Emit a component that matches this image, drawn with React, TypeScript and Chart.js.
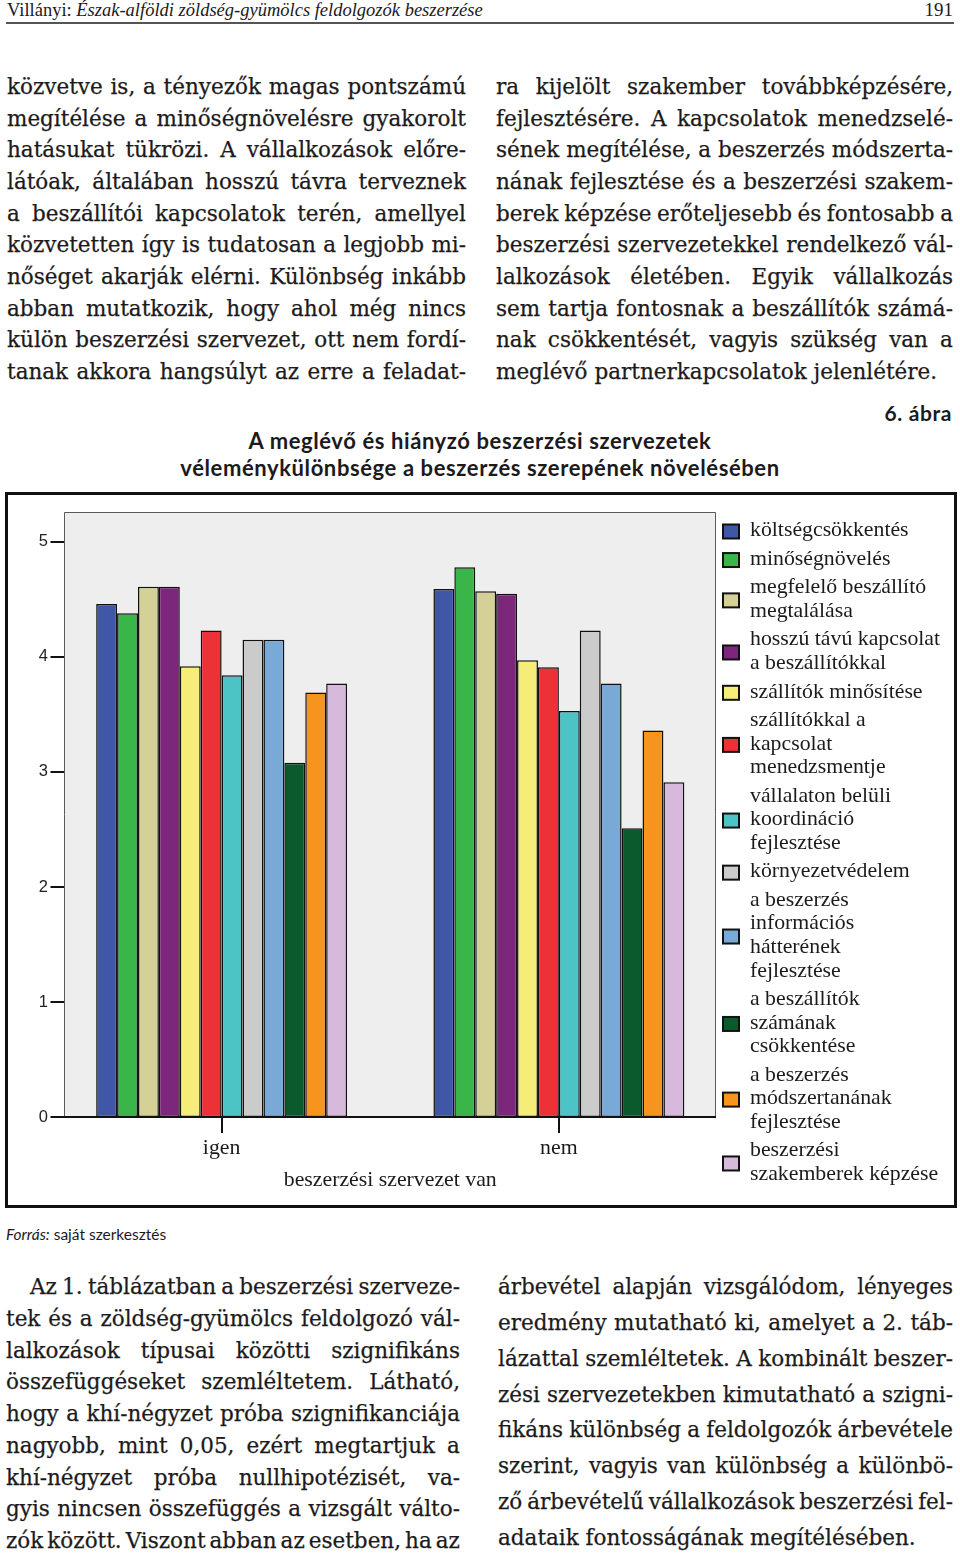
import React, { useEffect, useRef } from 'react';
import { Chart, registerables } from 'chart.js';

Chart.register(...registerables);

// ---------- chart data ----------
const categories = ['igen', 'nem'];
const seriesNames: string[][] = [
  ['költségcsökkentés'],
  ['minőségnövelés'],
  ['megfelelő beszállító', 'megtalálása'],
  ['hosszú távú kapcsolat', 'a beszállítókkal'],
  ['szállítók minősítése'],
  ['szállítókkal a', 'kapcsolat', 'menedzsmentje'],
  ['vállalaton belüli', 'koordináció', 'fejlesztése'],
  ['környezetvédelem'],
  ['a beszerzés', 'információs', 'hátterének', 'fejlesztése'],
  ['a beszállítók', 'számának', 'csökkentése'],
  ['a beszerzés', 'módszertanának', 'fejlesztése'],
  ['beszerzési', 'szakemberek képzése'],
];
const igenValues = [4.46, 4.38, 4.61, 4.61, 3.92, 4.23, 3.84, 4.15, 4.15, 3.08, 3.69, 3.77];
const nemValues = [4.59, 4.78, 4.57, 4.55, 3.97, 3.91, 3.53, 4.23, 3.77, 2.51, 3.36, 2.91];
const seriesColors = [
  '#3F57A6', '#39B54A', '#D5D096', '#7C267C', '#F6EC78', '#EC3237',
  '#4CC3C5', '#CBCBCB', '#79A9D7', '#0B5A2D', '#F7941E', '#D7BADB',
];
const yTickValues = [0, 1, 2, 3, 4, 5];
const yMax = 5.26;
const xTitle = 'beszerzési szervezet van';

// ---------- page text ----------
const topLeft = [
  'közvetve is, a tényezők magas pontszámú',
  'megítélése a minőségnövelésre gyakorolt',
  'hatásukat tükrözi. A vállalkozások előre-',
  'látóak, általában hosszú távra terveznek',
  'a beszállítói kapcsolatok terén, amellyel',
  'közvetetten így is tudatosan a legjobb mi-',
  'nőséget akarják elérni. Különbség inkább',
  'abban mutatkozik, hogy ahol még nincs',
  'külön beszerzési szervezet, ott nem fordí-',
  'tanak akkora hangsúlyt az erre a feladat-',
];
const topRight = [
  'ra kijelölt szakember továbbképzésére,',
  'fejlesztésére. A kapcsolatok menedzselé-',
  'sének megítélése, a beszerzés módszerta-',
  'nának fejlesztése és a beszerzési szakem-',
  'berek képzése erőteljesebb és fontosabb a',
  'beszerzési szervezetekkel rendelkező vál-',
  'lalkozások életében. Egyik vállalkozás',
  'sem tartja fontosnak a beszállítók számá-',
  'nak csökkentését, vagyis szükség van a',
  'meglévő partnerkapcsolatok jelenlétére.',
];
const bottomLeft = [
  'Az 1. táblázatban a beszerzési szerveze-',
  'tek és a zöldség-gyümölcs feldolgozó vál-',
  'lalkozások típusai közötti szignifikáns',
  'összefüggéseket szemléltetem. Látható,',
  'hogy a khí-négyzet próba szignifikanciája',
  'nagyobb, mint 0,05, ezért megtartjuk a',
  'khí-négyzet próba nullhipotézisét, va-',
  'gyis nincsen összefüggés a vizsgált válto-',
  'zók között. Viszont abban az esetben, ha az',
];
const bottomRight = [
  'árbevétel alapján vizsgálódom, lényeges',
  'eredmény mutatható ki, amelyet a 2. táb-',
  'lázattal szemléltetek. A kombinált beszer-',
  'zési szervezetekben kimutatható a szigni-',
  'fikáns különbség a feldolgozók árbevétele',
  'szerint, vagyis van különbség a különbö-',
  'ző árbevételű vállalkozások beszerzési fel-',
  'adataik fontosságának megítélésében.',
];

const BODY_FONT = '"DejaVu Serif", serif';
const BODY_SIZE = 21.5;
const TEXT_COLOR = '#1c1a1b';

function TextLine(props: { text: string; left: number; width: number; cy: number; justify: boolean; indent?: number }) {
  const { text, left, width, cy, justify, indent = 0 } = props;
  const lh = 30;
  const style: React.CSSProperties = {
    position: 'absolute',
    left: left + indent,
    width: width - indent,
    top: cy - lh / 2,
    height: lh,
    lineHeight: lh + 'px',
    fontFamily: BODY_FONT,
    fontSize: BODY_SIZE,
    color: TEXT_COLOR,
    whiteSpace: 'nowrap',
    WebkitTextStroke: '0.25px #1c1a1b',
  };
  if (justify) {
    return (
      <div style={{ ...style, display: 'flex', justifyContent: 'space-between' }}>
        {text.split(' ').map((w, i) => (
          <span key={i}>{w}</span>
        ))}
      </div>
    );
  }
  return <div style={style}>{text}</div>;
}

function Column(props: { lines: string[]; left: number; width: number; y0: number; step: number; lastJustified: boolean; firstIndent?: number }) {
  const { lines, left, width, y0, step, lastJustified, firstIndent = 0 } = props;
  return (
    <>
      {lines.map((t, i) => (
        <TextLine
          key={i}
          text={t}
          left={left}
          width={width}
          cy={y0 + i * step}
          justify={i < lines.length - 1 || lastJustified}
          indent={i === 0 ? firstIndent : 0}
        />
      ))}
    </>
  );
}

const framePlugin = {
  id: 'frame',
  beforeDatasetsDraw(chart: any) {
    const { ctx, chartArea: a } = chart;
    const L = a.left + 11;
    const R = a.right - 11.5;
    ctx.save();
    ctx.fillStyle = '#EEEEEE';
    ctx.fillRect(L, a.top, R - L, a.bottom - a.top);
    ctx.strokeStyle = '#5a5a5a';
    ctx.lineWidth = 1;
    ctx.beginPath();
    ctx.moveTo(L + 0.5, a.bottom);
    ctx.lineTo(L + 0.5, a.top + 0.5);
    ctx.lineTo(R - 0.5, a.top + 0.5);
    ctx.lineTo(R - 0.5, a.bottom);
    ctx.stroke();
    ctx.restore();
  },
  afterDatasetsDraw(chart: any) {
    const { ctx, chartArea: a, scales } = chart;
    const x = scales.x;
    const y = scales.y;
    const L = a.left + 11;
    const R = a.right - 11.5;
    const y0 = y.getPixelForValue(0);
    ctx.save();
    ctx.strokeStyle = '#111';
    ctx.lineWidth = 2;
    ctx.beginPath();
    ctx.moveTo(L - 13.5, y0);
    ctx.lineTo(R, y0);
    yTickValues.forEach((v) => {
      const py = Math.round(y.getPixelForValue(v));
      ctx.moveTo(L - 13.5, py);
      ctx.lineTo(L, py);
    });
    categories.forEach((_, i) => {
      const px = Math.round(x.getPixelForValue(i));
      ctx.moveTo(px, y0);
      ctx.lineTo(px, y0 + 16);
    });
    ctx.stroke();
    ctx.restore();
  },
};

const sideLegendPlugin = {
  id: 'sideLegend',
  afterDraw(chart: any) {
    const ctx = chart.ctx;
    const lh = 23.55;
    const gap = 5;
    let yy = 40.5;
    ctx.save();
    ctx.font = '21.8px "Liberation Serif"';
    ctx.textBaseline = 'middle';
    ctx.textAlign = 'left';
    chart.data.datasets.forEach((ds: any, i: number) => {
      const lines = seriesNames[i];
      const mid = yy + ((lines.length - 1) * lh) / 2 + 1;
      ctx.fillStyle = '#111';
      ctx.fillRect(722, mid - 8, 18, 16);
      ctx.fillStyle = ds.backgroundColor;
      ctx.fillRect(724, mid - 6, 14, 12);
      ctx.fillStyle = TEXT_COLOR;
      lines.forEach((t, j) => ctx.fillText(t, 750, yy + j * lh));
      yy += lines.length * lh + gap;
    });
    ctx.restore();
  },
};

function BarChart() {
  const ref = useRef<HTMLCanvasElement | null>(null);
  useEffect(() => {
    if (!ref.current) return;
    const serif = { family: '"Liberation Serif"', size: 21.8 };
    const chart = new Chart(ref.current, {
      type: 'bar',
      data: {
        labels: categories,
        datasets: seriesNames.map((name, i) => ({
          label: name.join(' '),
          data: [igenValues[i], nemValues[i]],
          backgroundColor: seriesColors[i],
          borderColor: '#111',
          borderWidth: 1.5,
          borderSkipped: false,
          categoryPercentage: 0.744,
          barPercentage: 1,
        })),
      },
      options: {
        animation: false,
        responsive: true,
        maintainAspectRatio: false,
        layout: { padding: { top: 22, bottom: 13, left: 33, right: 232.5 } },
        plugins: {
          legend: { display: false },
          tooltip: { enabled: false },
          title: { display: false },
        },
        scales: {
          x: {
            type: 'category',
            offset: true,
            grid: { display: false, drawTicks: false },
            border: { display: false },
            ticks: { font: serif, color: TEXT_COLOR, padding: 18, maxRotation: 0 },
            title: { display: true, text: xTitle, font: serif, color: TEXT_COLOR, padding: { top: 0, bottom: 4 } },
            afterFit: (s: any) => { s.height = 80; },
          },
          y: {
            min: 0,
            max: yMax,
            grid: { display: false, drawTicks: false },
            border: { display: false },
            ticks: { font: { family: '"Liberation Sans"', size: 16.5 }, color: '#222', padding: 5 },
            afterBuildTicks: (s: any) => { s.ticks = yTickValues.map((v) => ({ value: v })); },
            afterFit: (s: any) => { s.width = 20; },
          },
        },
      },
      plugins: [framePlugin, sideLegendPlugin],
    } as any);
    return () => chart.destroy();
  }, []);
  return <canvas ref={ref} />;
}

export default function App() {
  const sans = 'Lato, sans-serif';
  return (
    <div style={{ position: 'relative', width: 960, height: 1555, background: '#fff', overflow: 'hidden' }}>
      <style>{'body{margin:0;background:#fff;}'}</style>
      {/* running header */}
      <div style={{ position: 'absolute', left: 7, top: 0, height: 20, lineHeight: '20px', fontFamily: '"Liberation Serif", serif', fontSize: 18.5, color: TEXT_COLOR, whiteSpace: 'nowrap' }}>
        Villányi: <i>Észak-alföldi zöldség-gyümölcs feldolgozók beszerzése</i>
      </div>
      <div style={{ position: 'absolute', right: 7, top: 0, height: 20, lineHeight: '20px', fontFamily: '"Liberation Serif", serif', fontSize: 19, color: TEXT_COLOR }}>
        191
      </div>
      <div style={{ position: 'absolute', left: 6, top: 22, width: 948, height: 1.5, background: '#555' }} />

      <Column lines={topLeft} left={7} width={459} y0={87} step={31.67} lastJustified={true} />
      <Column lines={topRight} left={496} width={457} y0={87} step={31.67} lastJustified={false} />

      {/* figure caption */}
      <div style={{ position: 'absolute', right: 8, top: 401, height: 24, lineHeight: '24px', fontFamily: sans, fontWeight: 700, fontSize: 21, letterSpacing: 0.6, color: TEXT_COLOR }}>
        6. ábra
      </div>
      <div style={{ position: 'absolute', left: 0, width: 960, top: 427, textAlign: 'center', fontFamily: sans, fontWeight: 700, fontSize: 22, letterSpacing: 0.6, lineHeight: '27px', color: TEXT_COLOR }}>
        A meglévő és hiányzó beszerzési szervezetek
        <br />
        véleménykülönbsége a beszerzés szerepének növelésében
      </div>

      {/* chart */}
      <div style={{ position: 'absolute', left: 0, top: 490, width: 960, height: 720 }}>
        <BarChart />
      </div>
      <div style={{ position: 'absolute', left: 5, top: 492, width: 952, height: 716, border: '3px solid #111', boxSizing: 'border-box', pointerEvents: 'none' }} />

      <div style={{ position: 'absolute', left: 6, top: 1224, height: 20, lineHeight: '20px', fontFamily: sans, fontSize: 15.5, color: TEXT_COLOR }}>
        <i>Forrás:</i> saját szerkesztés
      </div>

      <Column lines={bottomLeft} left={6} width={454} y0={1287} step={31.75} lastJustified={true} firstIndent={24} />
      <Column lines={bottomRight} left={498} width={455} y0={1287} step={35.86} lastJustified={false} />
    </div>
  );
}
